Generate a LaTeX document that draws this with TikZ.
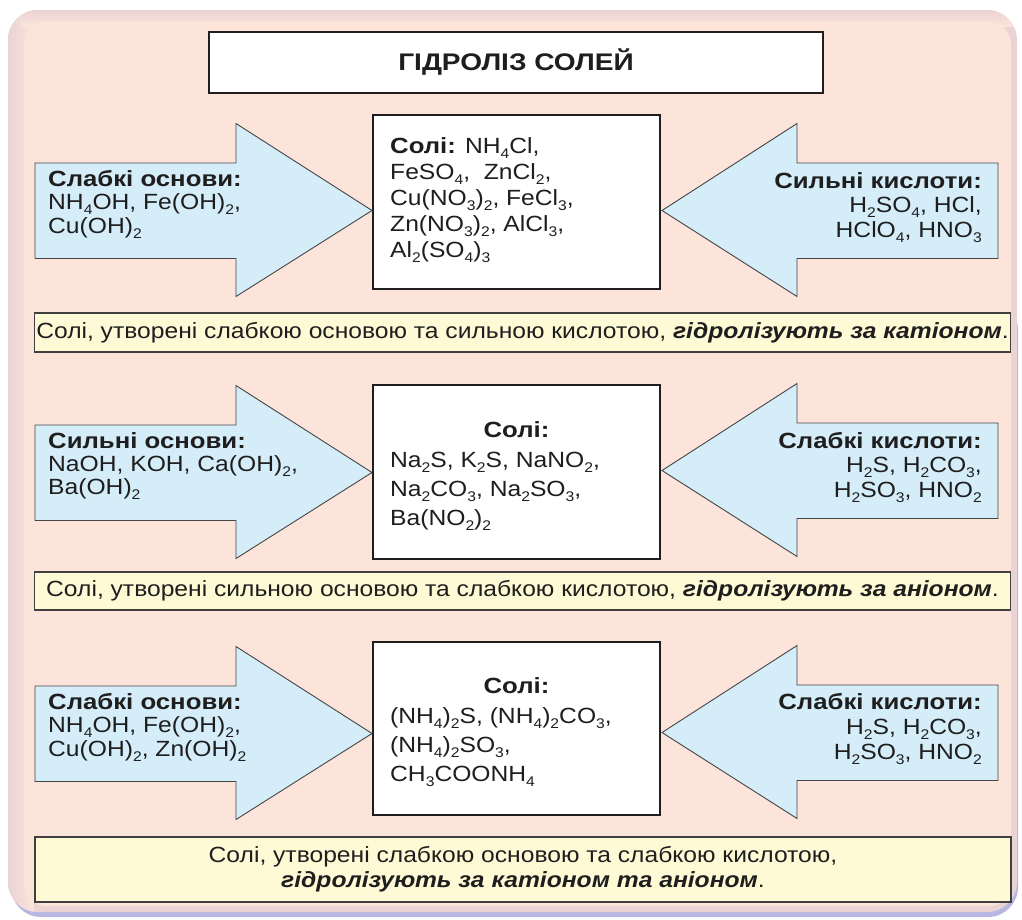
\documentclass[tikz,border=0pt]{standalone}
\usepackage{fontspec}
\setmainfont{Liberation Sans}[UprightFeatures={FakeStretch=1.12}, ItalicFeatures={FakeStretch=1.12}, BoldFeatures={FakeStretch=1.17}, BoldItalicFeatures={FakeStretch=1.12}]
\definecolor{panel}{RGB}{252,228,218}
\definecolor{paneledge}{RGB}{233,211,212}
\definecolor{shadowblue}{RGB}{184,182,226}
\definecolor{arrowblue}{RGB}{213,236,249}
\definecolor{arrowline}{RGB}{70,70,70}
\definecolor{bannerfill}{RGB}{255,250,214}
\definecolor{ink}{RGB}{30,30,30}
\newcommand{\subs}[1]{\raisebox{-5pt}{\fontsize{14}{14}\selectfont #1}}
\newcommand{\Llines}[2]{\vtop{\baselineskip=#1\lineskiplimit=-100pt\lineskip=0pt\halign{##\hfil\cr#2\crcr}}}
\newcommand{\Rlines}[2]{\vtop{\baselineskip=#1\lineskiplimit=-100pt\lineskip=0pt\halign{\hfil##\cr#2\crcr}}}
\tikzset{
  arrowshape/.style={fill=arrowblue, draw=arrowline, line width=0.9pt, line join=miter},
  saltbox/.style={draw=ink, fill=white, line width=1.2pt, minimum width=287pt},
  banner/.style={draw=ink!85, fill=bannerfill, line width=1.5pt, minimum width=976pt},
  txt/.style={inner sep=0pt, text=ink}
}
\newcommand{\LeftArrow}[1]{\draw[arrowshape] (35,{#1-47.5}) -- (236,{#1-47.5}) -- (236,{#1-87}) -- (372,{#1}) -- (236,{#1+86}) -- (236,{#1+48}) -- (35,{#1+48}) -- cycle;}
\newcommand{\RightArrow}[1]{\draw[arrowshape] (998,{#1-47.5}) -- (797,{#1-47.5}) -- (797,{#1-87}) -- (662,{#1}) -- (797,{#1+86}) -- (797,{#1+48}) -- (998,{#1+48}) -- cycle;}
\begin{document}
\begin{tikzpicture}[x=1pt,y=-1pt, every node/.style={font=\fontsize{22}{26}\selectfont}]
\useasboundingbox (0,0) rectangle (1022,919);
\fill[white] (0,0) rectangle (1022,919);
% panel
\fill[shadowblue, rounded corners=30pt] (11,300) rectangle (1018,917);
\fill[paneledge, rounded corners=30pt] (8,10) rectangle (1017,912);
\begin{scope}
\clip[rounded corners=30pt] (8,10) rectangle (1017,912);
\shade[left color=paneledge, right color=panel] (8,10) rectangle (34,912);
\shade[top color=paneledge, bottom color=panel] (20,10) rectangle (1017,26);
\fill[panel, rounded corners=22pt] (24,22) rectangle (1011,906);
\end{scope}
% title
\node[draw=ink, fill=white, line width=1.2pt, minimum width=614pt, minimum height=61pt, txt, font=\fontsize{24}{28}\selectfont] (title) at (516,62.5) {\textbf{ГІДРОЛІЗ СОЛЕЙ}};
% row 1
\LeftArrow{210.5}
\RightArrow{210.5}
\node[saltbox, minimum height=174pt] (salt1) at (516.5,202) {};
\node[txt, anchor=base west] (base1) at (48,186) {\Llines{23.5pt}{\textbf{Слабкі основи:}\cr NH\subs{4}OH, Fe(OH)\subs{2},\cr Cu(OH)\subs{2}}};
\node[txt, anchor=base east] (acid1) at (982,188) {\Rlines{24.5pt}{\textbf{Сильні кислоти:}\cr H\subs{2}SO\subs{4}, HCl,\cr HClO\subs{4}, HNO\subs{3}}};
\node[txt, anchor=base west] (salts1) at (390,153) {\Llines{26pt}{\textbf{Солі:} NH\subs{4}Cl,\cr FeSO\subs{4},\ \ ZnCl\subs{2},\cr Cu(NO\subs{3})\subs{2}, FeCl\subs{3},\cr Zn(NO\subs{3})\subs{2}, AlCl\subs{3},\cr Al\subs{2}(SO\subs{4})\subs{3}}};
\node[banner, minimum height=39pt, txt] (ban1) at (522.5,332.5) {Солі, утворені слабкою основою та сильною кислотою, \textbf{\textit{гідролізують за катіоном}}.};
% row 2
\LeftArrow{472.5}
\RightArrow{470.5}
\node[saltbox, minimum height=174pt] (salt2) at (516.5,472) {};
\node[txt, anchor=base west] (base2) at (48,448) {\Llines{23pt}{\textbf{Сильні основи:}\cr NaOH, KOH, Ca(OH)\subs{2},\cr Ba(OH)\subs{2}}};
\node[txt, anchor=base east] (acid2) at (982,448) {\Rlines{24.5pt}{\textbf{Слабкі кислоти:}\cr H\subs{2}S, H\subs{2}CO\subs{3},\cr H\subs{2}SO\subs{3}, HNO\subs{2}}};
\node[txt, anchor=base] (sl2) at (516.5,437) {\textbf{Солі:}};
\node[txt, anchor=base west] (salts2) at (390,467) {\Llines{29pt}{Na\subs{2}S, K\subs{2}S, NaNO\subs{2},\cr Na\subs{2}CO\subs{3}, Na\subs{2}SO\subs{3},\cr Ba(NO\subs{2})\subs{2}}};
\node[banner, minimum height=38pt, txt] (ban2) at (522.5,591) {Солі, утворені сильною основою та слабкою кислотою, \textbf{\textit{гідролізують за аніоном}}.};
% row 3
\LeftArrow{733.5}
\RightArrow{732.5}
\node[saltbox, minimum height=173pt] (salt3) at (516.5,728.5) {};
\node[txt, anchor=base west] (base3) at (48,709) {\Llines{23.5pt}{\textbf{Слабкі основи:}\cr NH\subs{4}OH, Fe(OH)\subs{2},\cr Cu(OH)\subs{2}, Zn(OH)\subs{2}}};
\node[txt, anchor=base east] (acid3) at (982,709) {\Rlines{25pt}{\textbf{Слабкі кислоти:}\cr H\subs{2}S, H\subs{2}CO\subs{3},\cr H\subs{2}SO\subs{3}, HNO\subs{2}}};
\node[txt, anchor=base] (sl3) at (516.5,693) {\textbf{Солі:}};
\node[txt, anchor=base west] (salts3) at (390,723) {\Llines{29pt}{(NH\subs{4})\subs{2}S, (NH\subs{4})\subs{2}CO\subs{3},\cr (NH\subs{4})\subs{2}SO\subs{3},\cr CH\subs{3}COONH\subs{4}}};
\node[banner, minimum height=65pt, minimum width=976pt, txt, align=center] (ban3) at (523,869.5) {\Llines{25pt}{\omit\hfil Солі, утворені слабкою основою та слабкою кислотою,\hfil\cr \omit\hfil\textbf{\textit{гідролізують за катіоном та аніоном}}.\hfil}};
\end{tikzpicture}
\end{document}
